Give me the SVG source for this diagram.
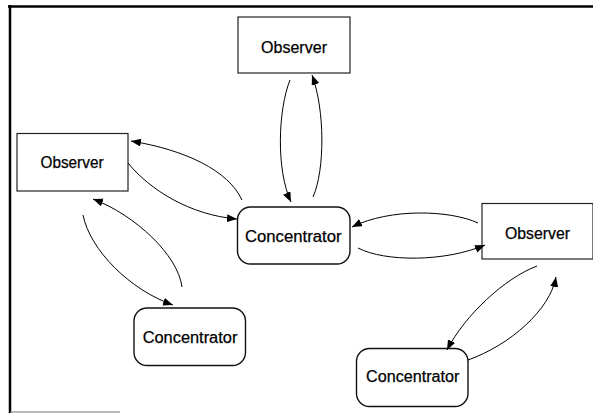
<svg xmlns="http://www.w3.org/2000/svg" width="593" height="413" viewBox="0 0 593 413">
<defs>
<marker id="arr" markerUnits="userSpaceOnUse" markerWidth="11" markerHeight="9" refX="10" refY="4" orient="auto">
<path d="M0,0 L10,4 L0,8 z" fill="#000"/>
</marker>
<style>
.obs{fill:#fff;stroke:#222;stroke-width:1.2}
.con{fill:#fff;stroke:#111;stroke-width:1.4}
.lbl{font-family:"Liberation Sans",Arial,sans-serif;font-size:16px;fill:#000;stroke:#000;stroke-width:0.25;text-anchor:middle}
.edge{fill:none;stroke:#000;stroke-width:1;marker-end:url(#arr)}
</style>
</defs>
<rect width="593" height="413" fill="#fff"/>
<g id="frame">
<line x1="8" y1="6.5" x2="593" y2="6.5" stroke="#000" stroke-width="2.5"/>
<line x1="10" y1="5" x2="10" y2="413" stroke="#000" stroke-width="2.5"/>
<line x1="10" y1="412" x2="120" y2="412" stroke="#777" stroke-width="1"/>
</g>
<g id="observer-top">
<rect class="obs" x="238" y="17" width="112" height="56"/>
<text class="lbl" x="294" y="52.5" textLength="66" lengthAdjust="spacingAndGlyphs">Observer</text>
</g>
<g id="observer-left">
<rect class="obs" x="17" y="133.5" width="111" height="57.5"/>
<text class="lbl" x="72" y="168" textLength="63" lengthAdjust="spacingAndGlyphs">Observer</text>
</g>
<g id="observer-right">
<rect class="obs" x="482" y="203.5" width="111" height="55.5"/>
<text class="lbl" x="537.5" y="239" textLength="65" lengthAdjust="spacingAndGlyphs">Observer</text>
</g>
<g id="concentrator-center">
<rect class="con" x="237.5" y="207" width="112.5" height="57" rx="13" ry="13"/>
<text class="lbl" x="293.3" y="241.7" textLength="96.7" lengthAdjust="spacingAndGlyphs">Concentrator</text>
</g>
<g id="concentrator-bottom-left">
<rect class="con" x="134" y="308" width="111.5" height="57.5" rx="13" ry="13"/>
<text class="lbl" x="190" y="343.3" textLength="94.7" lengthAdjust="spacingAndGlyphs">Concentrator</text>
</g>
<g id="concentrator-bottom-right">
<rect class="con" x="356.5" y="348.5" width="111.5" height="58" rx="13" ry="13"/>
<text class="lbl" x="412.7" y="382.3" textLength="93.3" lengthAdjust="spacingAndGlyphs">Concentrator</text>
</g>
<g id="connectors">
<path class="edge" d="M290,80 C278,110 276,170 291,202"/>
<path class="edge" d="M313,197 C325,170 325,110 312,75"/>
<path class="edge" d="M242,200 C228,170 185,150 131,141"/>
<path class="edge" d="M128,163 C150,190 190,215 237,219"/>
<path class="edge" d="M478,223 C450,210 390,208 352,227"/>
<path class="edge" d="M358,248 C385,262 445,262 485,245"/>
<path class="edge" d="M83,215 C90,250 130,290 173,305"/>
<path class="edge" d="M182,287 C178,255 135,215 93,199"/>
<path class="edge" d="M537,266 C505,278 465,315 447,350"/>
<path class="edge" d="M468,360 C510,345 550,310 556,277"/>
</g>
</svg>
